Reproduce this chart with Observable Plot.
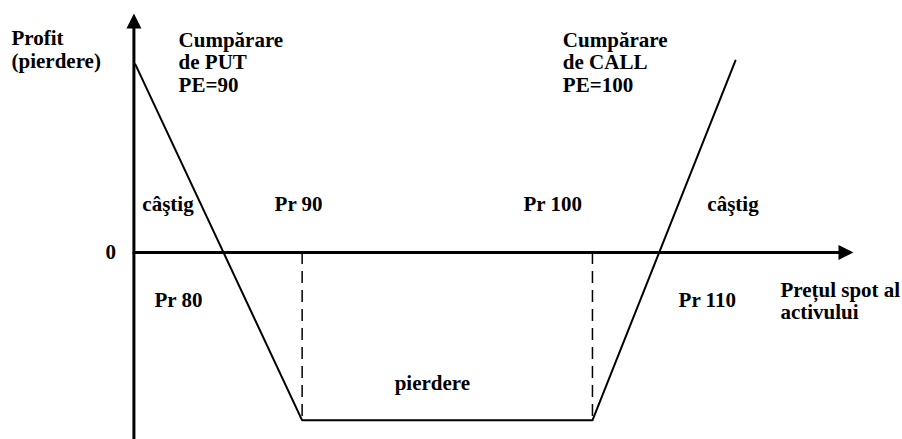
<!DOCTYPE html>
<html>
<head>
<meta charset="utf-8">
<script src="https://cdn.jsdelivr.net/npm/d3@7"></script>
<script src="https://cdn.jsdelivr.net/npm/@observablehq/plot@0.6"></script>
<style>
  html, body { margin: 0; padding: 0; background: #fff; }
  #chart svg { display: block; }
</style>
</head>
<body>
<div id="chart"></div>
<script>
// Payoff of the strategy (spot price vs profit), schematic values
const payoffPrice  = [84.25, 90, 100.01, 104.94];
const payoffProfit = [5.6, -5, -5, 5.71];

// Strike prices (dashed guides down to the loss level)
const strikes = [90, 100.01];
const maxLoss = -5;

// Axis extents
const axisOriginPrice = 84.2;
const axisEndPrice = 109.01;
const axisBottomProfit = -5.57;
const axisTopProfit = 7.11;

// Annotations
const labelTexts  = ["Profit\n(pierdere)", "Cumpărare\nde PUT\nPE=90", "Cumpărare\nde CALL\nPE=100",
                     "câştig", "Pr 90", "Pr 100", "câştig", "0", "Pr 80", "Pr 110", "pierdere"];
const labelPrice  = [79.98, 85.74, 98.99, 84.49, 89.05, 97.63, 103.97, 83.22, 84.91, 102.98, 93.19];
const labelProfit = [5.5, 4.78, 4.78, 1.22, 1.22, 1.22, 1.22, -0.21, -1.64, -1.64, -4.1];

const xLabelText = ["Prețul spot al\nactivului"];
const xLabelPrice = [106.49];
const xLabelProfit = [-1.99];

const payoff = payoffPrice.map((p, i) => ({p, v: payoffProfit[i]}));
const labels = labelTexts.map((t, i) => ({t, p: labelPrice[i], v: labelProfit[i]}));
const xLabel = xLabelText.map((t, i) => ({t, p: xLabelPrice[i], v: xLabelProfit[i]}));

const arrowHead = {
  draw(ctx) {
    ctx.moveTo(0, 0);
    ctx.lineTo(-7.5, 15);
    ctx.lineTo(7.5, 15);
    ctx.closePath();
  }
};

const font = {fontFamily: "'Liberation Serif', 'Times New Roman', Times, serif", fontWeight: "bold", fontSize: 21, fill: "#000"};

const chart = Plot.plot({
  width: 902,
  height: 439,
  margin: 0,
  x: {domain: [79.6, 110.7], axis: null},
  y: {domain: [-5.57, 7.5], axis: null},
  style: {background: "#fff", overflow: "visible"},
  marks: [
    // axes
    Plot.line([{p: axisOriginPrice, v: axisBottomProfit}, {p: axisOriginPrice, v: axisTopProfit - 0.3}],
      {x: "p", y: "v", stroke: "#000", strokeWidth: 3}),
    Plot.line([{p: axisOriginPrice, v: 0}, {p: axisEndPrice - 0.3, v: 0}],
      {x: "p", y: "v", stroke: "#000", strokeWidth: 3}),
    Plot.dot([{p: axisOriginPrice, v: axisTopProfit}], {x: "p", y: "v", symbol: arrowHead, fill: "#000", stroke: "none"}),
    Plot.dot([{p: axisEndPrice, v: 0}], {x: "p", y: "v", symbol: arrowHead, rotate: 90, fill: "#000", stroke: "none"}),
    // dashed strike guides
    Plot.ruleX(strikes, {x: d => d, y1: 0, y2: maxLoss, stroke: "#000", strokeWidth: 1.5, strokeDasharray: "12,7"}),
    // payoff line
    Plot.line(payoff, {x: "p", y: "v", stroke: "#000", strokeWidth: 2, strokeLinejoin: "miter"}),
    // labels
    Plot.text(labels, {x: "p", y: "v", text: "t", textAnchor: "start", lineAnchor: "bottom", lineHeight: 1.07, ...font}),
    Plot.text(xLabel, {x: "p", y: "v", text: "t", textAnchor: "start", lineAnchor: "bottom", lineHeight: 1.07, ...font})
  ]
});
document.getElementById("chart").appendChild(chart);
</script>
</body>
</html>
